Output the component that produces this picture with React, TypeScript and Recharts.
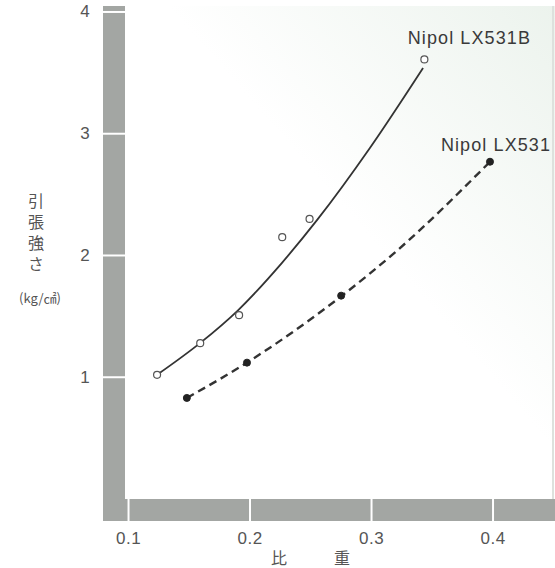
import { ComposedChart, Line, Scatter, XAxis, YAxis, ReferenceDot } from 'recharts'

// 比重 vs 引張強さ
const xTicks = [0.1, 0.2, 0.3, 0.4]
const yTicks = [1, 2, 3, 4]

// measured points
const lx531bPoints = [
  { x: 0.1235, y: 1.02 },
  { x: 0.159, y: 1.28 },
  { x: 0.191, y: 1.51 },
  { x: 0.2265, y: 2.15 },
  { x: 0.249, y: 2.3 },
  { x: 0.3435, y: 3.61 },
]
const lx531Points = [
  { x: 0.148, y: 0.83 },
  { x: 0.1975, y: 1.12 },
  { x: 0.275, y: 1.67 },
  { x: 0.3975, y: 2.77 },
]

// fitted curves
const lx531bCurve = [
  { x: 0.1235, y: 1.02 },
  { x: 0.1588, y: 1.28 },
  { x: 0.1901, y: 1.55 },
  { x: 0.2263, y: 1.94 },
  { x: 0.2551, y: 2.29 },
  { x: 0.2988, y: 2.885 },
  { x: 0.3424, y: 3.54 },
]
const lx531Curve = [
  { x: 0.148, y: 0.83 },
  { x: 0.1975, y: 1.12 },
  { x: 0.235, y: 1.37 },
  { x: 0.2757, y: 1.67 },
  { x: 0.321, y: 2.04 },
  { x: 0.3975, y: 2.77 },
]

const W = 555
const H = 568
const PLOT_L = 125
const PLOT_T = 6
const PLOT_B = 499
const BAND = 22
const BAND_COLOR = '#a3a6a3'
const LATIN = '"Liberation Sans", Arial, sans-serif'
const CJK = '"Noto Sans CJK JP", "Noto Sans", sans-serif'

const YTick = (props: any) => {
  const { x, y, payload } = props
  return (
    <g>
      <line x1={x - BAND} x2={x} y1={y} y2={y} stroke="#fff" strokeWidth={2} />
      <text x={x - 40} y={y} textAnchor="middle" dominantBaseline="central"
        fontFamily={LATIN} fontSize={17} fill="#555">{payload.value}</text>
    </g>
  )
}

const XTick = (props: any) => {
  const { x, y, payload } = props
  return (
    <g>
      <line x1={x} x2={x} y1={y} y2={y + BAND} stroke="#fff" strokeWidth={2} />
      <text x={x} y={y + 39} textAnchor="middle" dominantBaseline="central"
        fontFamily={LATIN} fontSize={17} letterSpacing={0.5} fill="#555">{payload.value.toFixed(1)}</text>
    </g>
  )
}

const openDot = (p: any) => <circle cx={p.cx} cy={p.cy} r={3.5} fill="#fff" stroke="#555" strokeWidth={1.2} />
const filledDot = (p: any) => <circle cx={p.cx} cy={p.cy} r={3.5} fill="#222" stroke="#222" />

const seriesLabel = (text: string, dx: number, dy: number) => (p: any) => (
  <text x={p.cx + dx} y={p.cy + dy} textAnchor="middle" dominantBaseline="central"
    fontFamily={LATIN} fontSize={18} letterSpacing={1.1} fill="#3a3a3a">{text}</text>
)

export default function App() {
  const lastB = lx531bPoints[lx531bPoints.length - 1]
  const lastA = lx531Points[lx531Points.length - 1]
  return (
    <div style={{ position: 'absolute', left: 0, top: 0, width: W, height: H, background: '#fff', overflow: 'hidden' }}>
      {/* plot background + gray axis bands */}
      <div style={{
        position: 'absolute', left: PLOT_L, top: PLOT_T, width: W - PLOT_L, height: PLOT_B - PLOT_T,
        background: 'linear-gradient(to top right, #ffffff 55%, #ecf3ed 100%)',
      }} />
      <div style={{ position: 'absolute', left: W - 3, top: PLOT_T, width: 2, height: PLOT_B - PLOT_T, background: '#dde1dd' }} />
      <div style={{ position: 'absolute', left: PLOT_L - BAND, top: PLOT_T, width: BAND, height: PLOT_B - PLOT_T + BAND, background: BAND_COLOR }} />
      <div style={{ position: 'absolute', left: PLOT_L - BAND, top: PLOT_B, width: W - PLOT_L + BAND, height: BAND, background: BAND_COLOR }} />

      <div style={{ position: 'absolute', left: 0, top: 0 }}>
        <ComposedChart width={W} height={H} margin={{ top: PLOT_T, right: 0, bottom: 0, left: 0 }}>
          <XAxis dataKey="x" type="number" domain={[0.0971, 0.451]} ticks={xTicks} allowDataOverflow
            axisLine={false} tickLine={false} tickSize={0} tickMargin={0} height={H - PLOT_B}
            tick={<XTick />} interval={0} />
          <YAxis dataKey="y" type="number" domain={[0, 4.049]} ticks={yTicks} allowDataOverflow
            axisLine={false} tickLine={false} tickSize={0} tickMargin={0} width={PLOT_L}
            tick={<YTick />} interval={0} />
          <Line data={lx531bCurve} dataKey="y" type="monotone" stroke="#333" strokeWidth={1.8}
            dot={false} activeDot={false} isAnimationActive={false} />
          <Line data={lx531Curve} dataKey="y" type="monotone" stroke="#333" strokeWidth={2.4}
            strokeDasharray="8 5" dot={false} activeDot={false} isAnimationActive={false} />
          <Scatter data={lx531bPoints} dataKey="y" shape={openDot} isAnimationActive={false} />
          <Scatter data={lx531Points} dataKey="y" shape={filledDot} isAnimationActive={false} />
          <ReferenceDot x={lastB.x} y={lastB.y} r={0} shape={seriesLabel('Nipol LX531B', 45, -21)} />
          <ReferenceDot x={lastA.x} y={lastA.y} r={0} shape={seriesLabel('Nipol LX531', 6, -17)} />
        </ComposedChart>
      </div>

      {/* axis titles */}
      <svg style={{ position: 'absolute', left: 0, top: 0, pointerEvents: 'none' }} width={W} height={H}>
        <text x={36} y={235} textAnchor="middle" fontFamily={CJK} fontSize={16} letterSpacing={5}
          fill="#555" style={{ writingMode: 'vertical-rl' }}>引張強さ</text>
        <text x={40} y={297} textAnchor="middle" dominantBaseline="central"
          fontFamily={CJK} fontSize={13} fill="#555">(kg/㎠)</text>
        <text x={279} y={557} textAnchor="middle" dominantBaseline="central"
          fontFamily={CJK} fontSize={16} fill="#555">比</text>
        <text x={342} y={557} textAnchor="middle" dominantBaseline="central"
          fontFamily={CJK} fontSize={16} fill="#555">重</text>
      </svg>
    </div>
  )
}
